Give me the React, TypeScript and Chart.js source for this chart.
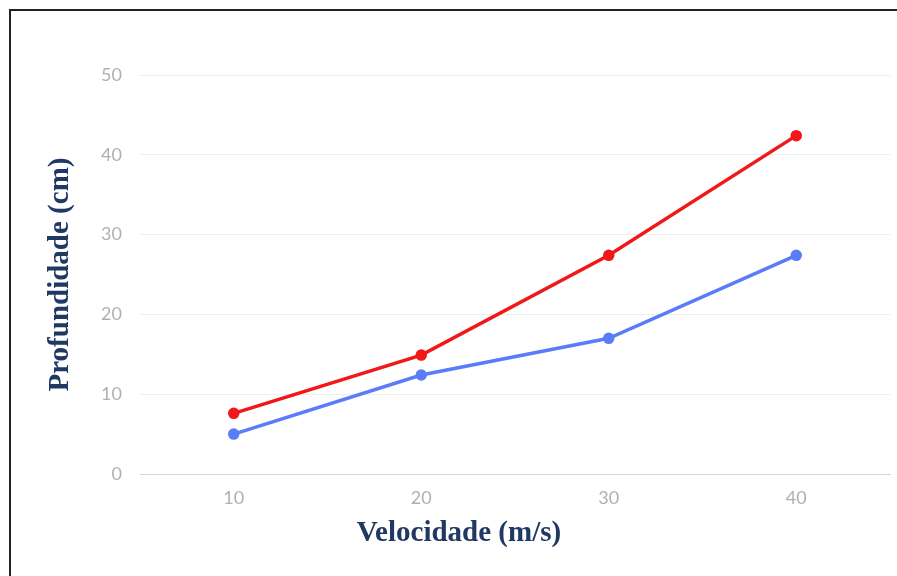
import React, { useEffect, useRef } from "react";
import { Chart, registerables } from "chart.js";

Chart.register(...registerables);

const categories = ["10", "20", "30", "40"];
const redSeries = [7.6, 14.9, 27.4, 42.4];
const blueSeries = [5.0, 12.4, 17.0, 27.4];
const yTicks = [0, 10, 20, 30, 40, 50];
const xTitle = "Velocidade (m/s)";
const yTitle = "Profundidade (cm)";

const CW = 900;
const CH = 600;

const titlesPlugin = {
  id: "titles",
  afterDraw(chart: any) {
    const ctx = chart.ctx;
    const area = chart.chartArea;
    ctx.save();
    ctx.fillStyle = "#1f3864";
    ctx.font = "bold 29px 'Liberation Serif', 'Times New Roman', serif";
    ctx.textAlign = "center";
    ctx.textBaseline = "middle";
    ctx.fillText(xTitle, 448, 523);
    ctx.translate(50, (area.top + area.bottom) / 2);
    ctx.rotate(-Math.PI / 2);
    ctx.fillText(yTitle, 0, 0);
    ctx.restore();
  },
};

export default function App() {
  const ref = useRef<HTMLCanvasElement | null>(null);
  useEffect(() => {
    if (!ref.current) return;
    const chart = new Chart(ref.current, {
      type: "line",
      data: {
        labels: categories,
        datasets: [
          {
            data: redSeries,
            borderColor: "#f01818",
            backgroundColor: "#f01818",
            borderWidth: 3.5,
            pointRadius: 4,
            pointHoverRadius: 4,
            tension: 0,
          },
          {
            data: blueSeries,
            borderColor: "#5b7cf8",
            backgroundColor: "#5b7cf8",
            borderWidth: 3.5,
            pointRadius: 4,
            pointHoverRadius: 4,
            tension: 0,
          },
        ],
      },
      options: {
        animation: false,
        responsive: false,
        layout: { padding: { top: 64, right: 21, bottom: 0, left: 0 } },
        plugins: { legend: { display: false }, tooltip: { enabled: false } },
        scales: {
          x: {
            offset: true,
            grid: { display: false, drawTicks: false },
            border: { display: true, color: "#d4d4d4", width: 1 },
            ticks: {
              color: "#b0b0b0",
              font: { family: "Lato, 'Noto Sans', sans-serif", size: 18 },
              padding: 13,
            },
            afterFit: (s: any) => {
              s.height = 137;
            },
          },
          y: {
            min: 0,
            max: 50,
            afterBuildTicks: (s: any) => {
              s.ticks = yTicks.map((v) => ({ value: v }));
            },
            grid: { color: "#eeeeee", drawTicks: false },
            border: { display: false },
            ticks: {
              color: "#b0b0b0",
              font: { family: "Lato, 'Noto Sans', sans-serif", size: 18 },
              padding: 18,
            },
            afterFit: (s: any) => {
              s.width = 129;
            },
          },
        },
      },
      plugins: [titlesPlugin],
    });
    return () => chart.destroy();
  }, []);
  return (
    <div style={{ position: "fixed", left: 0, top: 0, width: 897, height: 576, overflow: "hidden", background: "#fff" }}>
      <div
        style={{
          position: "absolute",
          left: 9,
          top: 9,
          width: CW,
          height: CH,
          border: "2px solid #222",
          background: "#fff",
        }}
      >
        <canvas ref={ref} width={CW} height={CH} style={{ display: "block", width: CW, height: CH }} />
      </div>
    </div>
  );
}
